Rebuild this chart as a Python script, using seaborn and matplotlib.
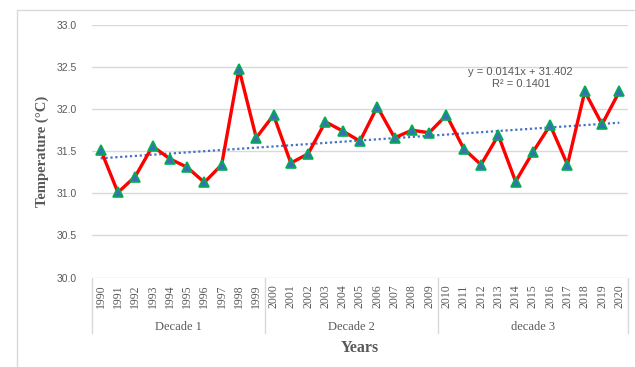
import numpy as np
import pandas as pd
import matplotlib.pyplot as plt
import matplotlib.transforms as mtransforms
import seaborn as sns

# data
years = list(range(1990, 2021))
temps = [31.52, 31.01, 31.20, 31.56, 31.41, 31.31, 31.13, 31.34, 32.48, 31.66,
         31.93, 31.36, 31.47, 31.85, 31.74, 31.62, 32.03, 31.66, 31.75, 31.72,
         31.93, 31.53, 31.34, 31.69, 31.14, 31.49, 31.81, 31.34, 32.21, 31.82,
         32.21]
decades = ["Decade 1", "Decade 2", "decade 3"]
decade_sizes = [10, 10, 11]
trend_slope = 0.0141
trend_intercept = 31.402
trend_r2 = 0.1401

GREY = "#595959"
GRID = "#D9D9D9"

sns.set_style("white")
plt.rcParams["font.family"] = ["Liberation Sans", "DejaVu Sans"]

df = pd.DataFrame({"pos": np.arange(len(years)), "temp": temps})

fig = plt.figure(figsize=(6.35, 3.67), dpi=100)
ax = fig.add_axes([92 / 635, 1 - 277.5 / 367, 536 / 635, 252.5 / 367])

# outer chart frame (top and left edges visible)
fig.add_artist(plt.Line2D([17 / 635, 1], [1 - 10 / 367, 1 - 10 / 367],
                          transform=fig.transFigure, color=GRID, lw=1))
fig.add_artist(plt.Line2D([17 / 635, 17 / 635], [0, 1 - 10 / 367],
                          transform=fig.transFigure, color=GRID, lw=1))

# gridlines
for v in np.arange(30.5, 33.01, 0.5):
    ax.axhline(v, color=GRID, lw=1, zorder=0)

# trend line
trend_y = trend_slope * (df["pos"] + 1) + trend_intercept
ax.plot(df["pos"], trend_y, color="#4472C4", lw=1.6,
        linestyle=(0, (1, 1.2)), zorder=2)

sns.lineplot(data=df, x="pos", y="temp", ax=ax, color="#FF0000", lw=2.4,
             marker="^", markersize=6.5, markerfacecolor="#3A6FB8",
             markeredgecolor="#00B050", markeredgewidth=1.2, zorder=3)

ax.set_xlim(-0.5, len(years) - 0.5)
ax.set_ylim(30.0, 33.0)
ax.set_yticks(np.arange(30.0, 33.01, 0.5))
ax.set_yticklabels([f"{v:.1f}" for v in np.arange(30.0, 33.01, 0.5)],
                   color=GREY, fontsize=7.5)
ax.tick_params(axis="y", length=0, pad=11)

ax.set_xticks(df["pos"])
ax.set_xticklabels([str(y) for y in years], rotation=90, color=GREY,
                   fontsize=8.5, family="Liberation Serif")
ax.tick_params(axis="x", length=0, pad=5)

for s in ax.spines.values():
    s.set_visible(False)
ax.axhline(30.0, color=GRID, lw=1, zorder=1)

# multi-level category axis
trans = mtransforms.blended_transform_factory(ax.transData, ax.transAxes)
start = -0.5
edges = [start]
for name, n in zip(decades, decade_sizes):
    ax.text(start + n / 2, -0.195, name, transform=trans, ha="center",
            va="center", color=GREY, fontsize=9, family="Liberation Serif")
    start += n
    edges.append(start)
for e in edges:
    ax.plot([e, e], [0, -0.22], transform=trans, color=GRID, lw=1,
            clip_on=False)

ax.text(24.3, 32.37, f"y = {trend_slope}x + {trend_intercept}\nR² = {trend_r2}",
        ha="center", va="center", color=GREY, fontsize=8, linespacing=1.3)

ax.set_xlabel("Years", fontsize=11.5, fontweight="bold", color=GREY,
              family="Liberation Serif")
ax.set_ylabel("Temperature (\u00b0C)", fontsize=10.5, fontweight="bold",
              color=GREY, family="Liberation Serif")
ax.yaxis.set_label_coords(-43 / 536, 0.5)
ax.xaxis.set_label_coords(0.5, -63 / 252.5)

fig.savefig("out.png", dpi=100)
